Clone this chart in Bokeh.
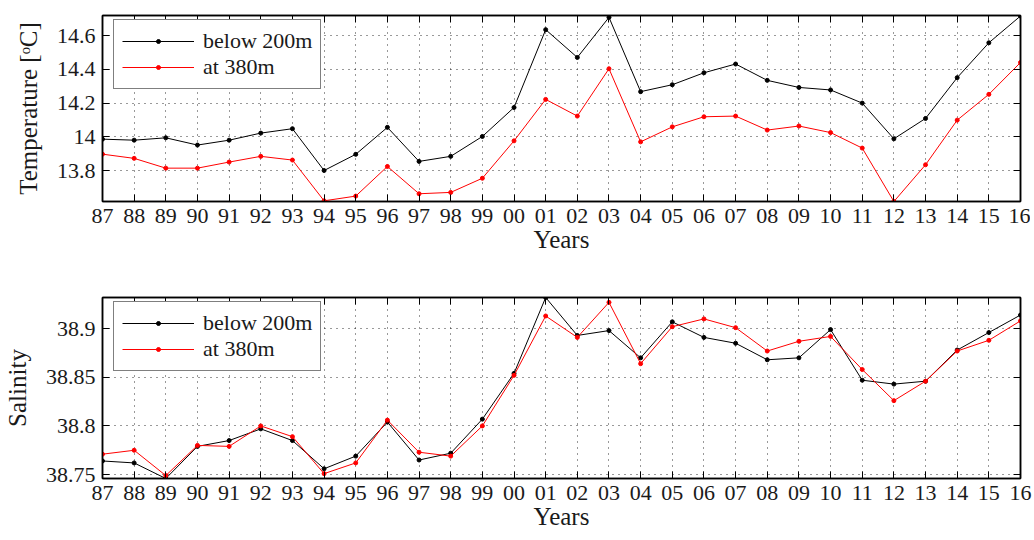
from bokeh.plotting import figure
from bokeh.layouts import column
from bokeh.models import Range1d, FixedTicker, LinearAxis, Legend, LegendItem, PrintfTickFormatter
from bokeh.embed import file_html
from bokeh.resources import INLINE

years = list(range(1987, 2017))
year_labels = ["87", "88", "89", "90", "91", "92", "93", "94", "95", "96",
               "97", "98", "99", "00", "01", "02", "03", "04", "05", "06",
               "07", "08", "09", "10", "11", "12", "13", "14", "15", "16"]

temp_below200 = [13.986, 13.980, 13.994, 13.951, 13.980, 14.022, 14.048, 13.800, 13.896, 14.056,
                 13.854, 13.884, 14.002, 14.174, 14.636, 14.471, 14.709, 14.268, 14.309, 14.380,
                 14.432, 14.335, 14.293, 14.278, 14.200, 13.988, 14.109, 14.351, 14.558, 14.717]
temp_at380 = [13.897, 13.872, 13.814, 13.814, 13.850, 13.884, 13.862, 13.620, 13.648, 13.824,
              13.662, 13.670, 13.754, 13.976, 14.222, 14.123, 14.404, 13.970, 14.059, 14.119,
              14.123, 14.040, 14.064, 14.025, 13.933, 13.616, 13.834, 14.099, 14.252, 14.441]

sal_below200 = [38.764, 38.762, 38.746, 38.779, 38.785, 38.797, 38.785, 38.756, 38.769, 38.804,
                38.765, 38.772, 38.807, 38.854, 38.932, 38.893, 38.898, 38.870, 38.907, 38.891,
                38.885, 38.868, 38.870, 38.899, 38.847, 38.843, 38.846, 38.878, 38.896, 38.914]
sal_at380 = [38.771, 38.775, 38.749, 38.780, 38.779, 38.800, 38.789, 38.751, 38.762, 38.806,
             38.773, 38.769, 38.800, 38.852, 38.913, 38.891, 38.927, 38.864, 38.902, 38.910,
             38.901, 38.877, 38.887, 38.892, 38.858, 38.826, 38.846, 38.877, 38.888, 38.908]

temp_ticks = [13.8, 14.0, 14.2, 14.4, 14.6]
sal_ticks = [38.75, 38.8, 38.85, 38.9]
temp_range = (13.616, 14.72)
sal_range = (38.746, 38.932)

series_names = ["below 200m", "at 380m"]
series_colors = ["black", "#ff0000"]

FONT = "Liberation Serif"
TXT = "#1a1a1a"


def style_axis(ax, show_labels=True):
    ax.major_tick_in = 7
    ax.major_tick_out = 0
    ax.minor_tick_in = 0
    ax.minor_tick_out = 0
    ax.axis_line_color = "black"
    ax.axis_line_width = 1.5
    ax.major_tick_line_color = "black"
    ax.major_tick_line_width = 1
    if show_labels:
        ax.major_label_text_font = FONT
        ax.major_label_text_font_size = "22px"
        ax.major_label_text_color = TXT
        ax.major_label_standoff = 7
    else:
        ax.major_label_text_font_size = "0px"
        ax.major_label_standoff = 0
        ax.major_label_text_color = None


def make_panel(s1, s2, yr, yticks, ylabel, frame_h, btop, bbottom):
    p = figure(frame_width=918, frame_height=frame_h, output_backend="svg", toolbar_location=None,
               x_range=Range1d(years[0], years[-1]), y_range=Range1d(*yr),
               min_border_left=99, min_border_right=13, min_border_top=btop,
               min_border_bottom=bbottom)
    p.outline_line_color = "black"
    p.outline_line_width = 1.5
    p.background_fill_color = "white"
    p.border_fill_color = "white"

    p.xaxis.ticker = FixedTicker(ticks=years)
    p.yaxis.ticker = FixedTicker(ticks=yticks)
    p.xaxis.major_label_overrides = {y: l for y, l in zip(years, year_labels)}
    p.yaxis.formatter = PrintfTickFormatter(format="%g")
    for ax in p.xaxis + p.yaxis:
        style_axis(ax)
    p.xaxis.axis_label = "Years"
    p.yaxis.axis_label = ylabel
    for ax in p.xaxis + p.yaxis:
        ax.axis_label_text_font = FONT
        ax.axis_label_text_font_size = "25px"
        ax.axis_label_text_font_style = "normal"
        ax.axis_label_text_color = TXT
    p.xaxis.axis_label_standoff = 0
    p.yaxis.axis_label_standoff = 12

    top = LinearAxis(ticker=FixedTicker(ticks=years))
    style_axis(top, show_labels=False)
    p.add_layout(top, "above")
    right = LinearAxis(ticker=FixedTicker(ticks=yticks))
    style_axis(right, show_labels=False)
    p.add_layout(right, "right")

    for g in (p.xgrid, p.ygrid):
        g.grid_line_color = "black"
        g.grid_line_dash = "1 5"
        g.grid_line_width = 1
        g.grid_line_alpha = 0.8

    items = []
    for vals, name, col in zip((s1, s2), series_names, series_colors):
        l = p.line(years, vals, line_color=col, line_width=1)
        s = p.scatter(years, vals, size=4, fill_color=col, line_color=col)
        items.append(LegendItem(label=name, renderers=[l, s]))
    leg = Legend(items=items, location=(11, frame_h - 12 - 62), margin=0, padding=8, spacing=0,
                 glyph_width=72, glyph_height=10, label_height=23, label_standoff=9,
                 label_text_font=FONT, label_text_font_size="22px", label_text_color=TXT,
                 border_line_color="black", border_line_width=1.5,
                 background_fill_color="white", background_fill_alpha=1.0)
    p.add_layout(leg)
    return p


p1 = make_panel(temp_below200, temp_at380, temp_range, temp_ticks,
                "Temperature [ᵒC]", 186, 15, 60)
p2 = make_panel(sal_below200, sal_at380, sal_range, sal_ticks,
                "Salinity", 181, 36, 58)

layout = column(p1, p2, spacing=0)
open("out.html", "w").write(file_html(layout, INLINE))
